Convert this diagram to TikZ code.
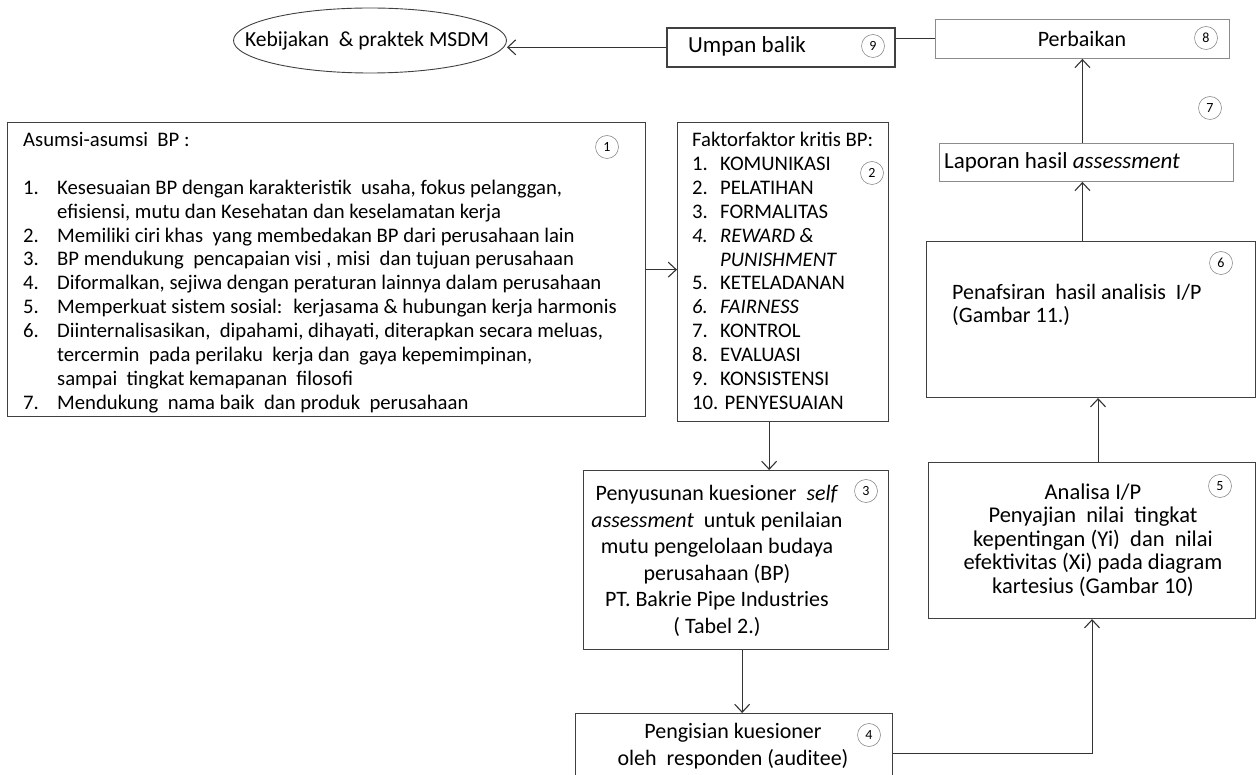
\documentclass[tikz,border=0pt]{standalone}
\usepackage{fontspec}
\setmainfont{Carlito}
\usetikzlibrary{arrows.meta,positioning,calc,shapes.geometric}

\newcommand{\numbox}[1]{\makebox[34pt][l]{#1}}
\newcommand{\numboxb}[1]{\makebox[28pt][l]{#1}}

\begin{document}
\begin{tikzpicture}[x=1pt,y=-1pt,
    box/.style={draw=black!75, line width=1.3pt, inner sep=0pt, anchor=north west},
    lightbox/.style={draw=black!45, line width=0.9pt, inner sep=0pt, anchor=north west},
    nr/.style={draw=black!45, circle, line width=0.6pt, minimum size=23pt, inner sep=0pt, font=\fontsize{14}{14}\selectfont},
    txt/.style={font=\fontsize{20.7}{23.9}\selectfont, inner sep=0pt},
    midtxt/.style={font=\fontsize{22.5}{23.6}\selectfont, inner sep=0pt},
    bigtxt/.style={font=\fontsize{22}{26.5}\selectfont, inner sep=0pt},
    arr/.style={-{Straight Barb[length=8pt,width=15pt]}, line width=1.1pt, draw=black!80}]
    \useasboundingbox (0,0) rectangle (1256,775);
    \clip (0,0) rectangle (1256,775);
    % top row: feedback loop
    \node[draw=black!75, line width=0.9pt, ellipse, minimum width=273pt, minimum height=65pt, inner sep=0pt] (msdm) at (370,40.5) {};
    \node[font=\fontsize{21.5}{24}\selectfont, inner sep=0pt] (msdmtxt) at (367,40.5) {Kebijakan \ \& praktek MSDM};
    \node[box, line width=1.6pt, minimum width=228pt, minimum height=39pt] (umpan) at (666,27) {};
    \node[font=\fontsize{23}{26}\selectfont, inner sep=0pt] (umpantxt) at (747,46) {Umpan balik};
    \node[nr] (n9) at (873,46) {9};
    \node[lightbox, minimum width=294pt, minimum height=39pt] (perbaikan) at (935,19) {};
    \node[bigtxt] (perbaikantxt) at (1082,39) {Perbaikan};
    \node[nr] (n8) at (1206,38) {8};
    \node[nr] (n7) at (1210,108) {7};
    \node[lightbox, minimum width=294pt, minimum height=38pt] (laporan) at (939,143) {};
    \node[font=\fontsize{23}{26}\selectfont, inner sep=0pt, anchor=west] (laporantxt) at (944,162) {Laporan hasil \textit{assessment}};
    % left column
    \node[box, minimum width=638pt, minimum height=294pt] (asumsi) at (7,122) {};
    \node[txt, align=left, anchor=north west] (asumsitxt) at (23,132) {%
      Asumsi-asumsi \ BP :\\
      \mbox{}\\
      \numbox{1.}Kesesuaian BP dengan karakteristik \ usaha, fokus pelanggan,\\
      \numbox{}efisiensi, mutu dan Kesehatan dan keselamatan kerja\\
      \numbox{2.}Memiliki ciri khas \ yang membedakan BP dari perusahaan lain\\
      \numbox{3.}BP mendukung \ pencapaian visi , misi \ dan tujuan perusahaan\\
      \numbox{4.}Diformalkan, sejiwa dengan peraturan lainnya dalam perusahaan\\
      \numbox{5.}Memperkuat sistem sosial: \ kerjasama \& hubungan kerja harmonis\\
      \numbox{6.}Diinternalisasikan, \ dipahami, dihayati, diterapkan secara meluas,\\
      \numbox{}tercermin \ pada perilaku \ kerja dan \ gaya kepemimpinan,\\
      \numbox{}sampai \ tingkat kemapanan \ filosofi\\
      \numbox{7.}Mendukung \ nama baik \ dan produk \ perusahaan};
    \node[nr] (n1) at (607,147) {1};
    \node[box, minimum width=211pt, minimum height=299pt] (faktor) at (677,122) {};
    \node[txt, align=left, anchor=north west] (faktortxt) at (692,132) {%
      Faktorfaktor kritis BP:\\
      \numboxb{1.}KOMUNIKASI\\
      \numboxb{2.}PELATIHAN\\
      \numboxb{3.}FORMALITAS\\
      \textit{\numboxb{4.}REWARD \&}\\
      \textit{\numboxb{}PUNISHMENT}\\
      \numboxb{5.}KETELADANAN\\
      \textit{\numboxb{6.}FAIRNESS}\\
      \numboxb{7.}KONTROL\\
      \numboxb{8.}EVALUASI\\
      \numboxb{9.}KONSISTENSI\\
      10. PENYESUAIAN};
    \node[nr] (n2) at (872,173) {2};
    \node[box, minimum width=305pt, minimum height=179pt] (susun) at (583,470) {};
    \node[bigtxt, align=center] (susuntxt) at (717,561) {%
      Penyusunan kuesioner \ \textit{self}\\
      \textit{assessment} \ untuk penilaian\\
      mutu pengelolaan budaya\\
      perusahaan (BP)\\
      PT. Bakrie Pipe Industries\\
      ( Tabel 2.)};
    \node[nr] (n3) at (866,491) {3};
    \node[box, minimum width=317pt, minimum height=80pt] (isi) at (575,713) {};
    \node[bigtxt, align=center] (isitxt) at (733,746) {%
      Pengisian kuesioner\\
      oleh \ responden (auditee)};
    \node[nr] (n4) at (869,735) {4};
    % right column
    \node[box, line width=1.1pt, minimum width=327pt, minimum height=156pt] (analisa) at (928,462) {};
    \node[midtxt, align=center] (analisatxt) at (1093,540) {%
      Analisa I/P\\
      Penyajian \ nilai \ tingkat\\
      kepentingan (Yi) \ dan \ nilai\\
      efektivitas (Xi) pada diagram\\
      kartesius (Gambar 10)};
    \node[nr] (n5) at (1220,486) {5};
    \node[box, line width=1.1pt, minimum width=329pt, minimum height=156pt] (tafsir) at (926,241) {};
    \node[font=\fontsize{22}{23.5}\selectfont, inner sep=0pt, align=left, anchor=north west] (tafsirtxt) at (952,284) {%
      Penafsiran \ hasil analisis \ I/P\\
      (Gambar 11.)};
    \node[nr] (n6) at (1221,263) {6};
    % connectors
    \draw[arr] (umpan.west) -- (umpan.west -| msdm.east);
    \draw[line width=1.1pt, draw=black!80] (umpan.east |- perbaikan.west) -- (perbaikan.west);
    \draw[arr] (laporan.north -| perbaikan.south) -- (perbaikan.south);
    \draw[arr] (tafsir.north -| perbaikan.south) -- (laporan.south -| perbaikan.south);
    \draw[arr] ([xshift=6pt]analisa.north) -- ([xshift=6pt]analisa.north |- tafsir.south);
    \draw[arr] (isi.east) -| (analisa.south);
    \draw[arr] (asumsi.east) -- (asumsi.east -| faktor.west);
    \draw[arr] ([xshift=-14pt]faktor.south) -- ([xshift=-14pt]faktor.south |- susun.north);
    \draw[arr] ([xshift=6pt]susun.south) -- ([xshift=6pt]susun.south |- isi.north);
\end{tikzpicture}
\end{document}
